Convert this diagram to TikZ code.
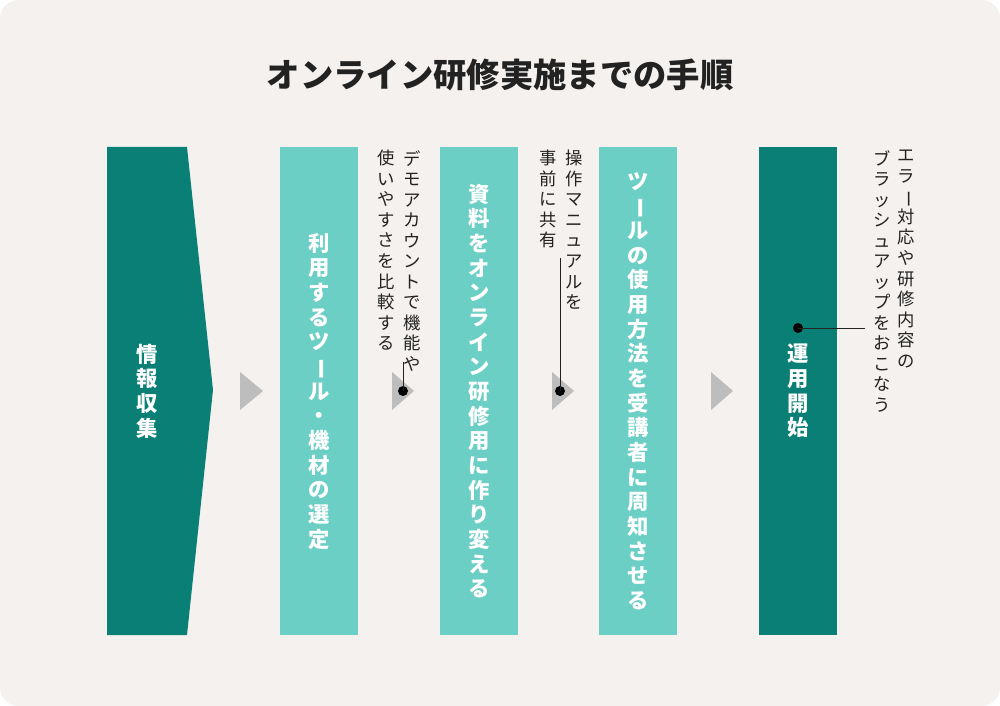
\documentclass[tikz,border=0pt]{standalone}
\usepackage{fontspec}
\usepackage{graphicx}
\setmainfont{Noto Sans CJK JP}
\definecolor{bg}{HTML}{F4F1EE}
\definecolor{dark}{HTML}{0A7F76}
\definecolor{light}{HTML}{6CCFC6}
\definecolor{tri}{HTML}{BDBDBD}
\definecolor{ink}{HTML}{222222}
\def\vend{\vend}
\def\vbar{\rotatebox[origin=c]{-90}{ー}}
\def\vstackA#1{\ifx#1\vend\else\hbox to 1em{\hss#1\hss}\expandafter\vstackA\fi}
\newcommand\vmain[1]{\vbox{\baselineskip=18.5pt\lineskiplimit=-20pt\vstackA#1\vend}}
\newcommand\vnote[1]{\vbox{\baselineskip=15.4pt\lineskiplimit=-20pt\vstackA#1\vend}}
\begin{document}
\begin{tikzpicture}[x=0.75pt,y=-0.75pt,
  mtext/.style={text=white,font=\bfseries\fontsize{16pt}{18pt}\selectfont,inner sep=0},
  ntext/.style={text=ink,font=\fontsize{13pt}{15pt}\selectfont,inner sep=0,anchor=north},
  arrowtri/.style={fill=tri,draw=none},
  dotmark/.style={circle,fill=black,inner sep=0,minimum size=7.5pt},
  lead/.style={draw=ink,line width=0.6pt}]
\fill[bg,rounded corners=14pt] (0,0) rectangle (1000,706);
\node[font=\bfseries\fontsize{25pt}{28pt}\selectfont,text=ink] (title) at (500,75) {オンライン研修実施までの手順};
% column 1
\fill[dark] (107,147) -- (187,147) -- (213,390) -- (187,635) -- (107,635) -- cycle;
\node[mtext] (c1) at (147,391) {\vmain{情報収集}};
\fill[arrowtri] (240,372) -- (263,391) -- (240,410) -- cycle;
% column 2
\fill[light] (280,147) rectangle (358,635);
\node[mtext] (c2) at (319,391) {\vmain{利用するツ\vbar ル・機材の選定}};
\fill[arrowtri] (392,372) -- (414,391) -- (392,410) -- cycle;
\node[dotmark] (d1) at (403,391) {};
\coordinate (e1) at (403,362);
\draw[lead] (d1.center) -- (e1);
\node[ntext] (n1a) at (412,150) {\vnote{デモアカウントで機能や}};
\node[ntext] (n1b) at (386,150) {\vnote{使いやすさを比較する}};
% column 3
\fill[light] (440,147) rectangle (518,635);
\node[mtext] (c3) at (479,391) {\vmain{資料をオンライン研修用に作り変える}};
\fill[arrowtri] (552,372) -- (574,391) -- (552,410) -- cycle;
\node[dotmark] (d2) at (560,391) {};
\coordinate (e2) at (560,258);
\draw[lead] (d2.center) -- (e2);
\node[ntext] (n2a) at (574,150) {\vnote{操作マニュアルを}};
\node[ntext] (n2b) at (548,150) {\vnote{事前に共有}};
% column 4
\fill[light] (599,147) rectangle (677,635);
\node[mtext] (c4) at (638,391) {\vmain{ツ\vbar ルの使用方法を受講者に周知させる}};
\fill[arrowtri] (711,372) -- (733,391) -- (711,410) -- cycle;
% column 5
\fill[dark] (759,147) rectangle (837,635);
\node[mtext] (c5) at (798,391) {\vmain{運用開始}};
\node[dotmark] (d3) at (798,328) {};
\coordinate (e3) at (865,328);
\draw[lead] (d3.center) -- (e3);
\node[ntext] (n3a) at (906,150) {\vnote{エラ\vbar 対応や研修内容の}};
\node[ntext] (n3b) at (882,150) {\vnote{ブラッシュアップをおこなう}};
\end{tikzpicture}
\end{document}
